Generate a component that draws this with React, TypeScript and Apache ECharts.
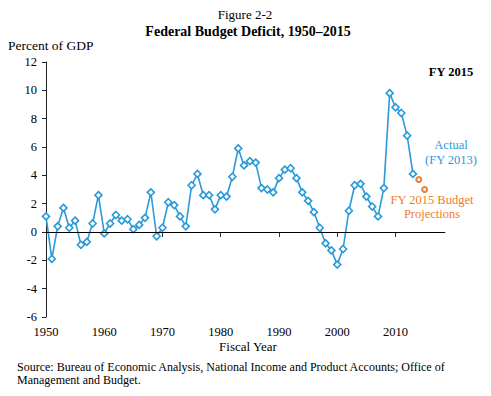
import React, { useEffect, useRef } from "react";
import * as echarts from "echarts";

const actualYears = [
  1950, 1951, 1952, 1953, 1954, 1955, 1956, 1957, 1958, 1959,
  1960, 1961, 1962, 1963, 1964, 1965, 1966, 1967, 1968, 1969,
  1970, 1971, 1972, 1973, 1974, 1975, 1976, 1977, 1978, 1979,
  1980, 1981, 1982, 1983, 1984, 1985, 1986, 1987, 1988, 1989,
  1990, 1991, 1992, 1993, 1994, 1995, 1996, 1997, 1998, 1999,
  2000, 2001, 2002, 2003, 2004, 2005, 2006, 2007, 2008, 2009,
  2010, 2011, 2012, 2013,
];
const actualDeficit = [
  1.1, -1.9, 0.4, 1.7, 0.3, 0.8, -0.9, -0.7, 0.6, 2.6,
  -0.1, 0.6, 1.2, 0.8, 0.9, 0.2, 0.5, 1.0, 2.8, -0.3,
  0.3, 2.1, 1.9, 1.1, 0.4, 3.3, 4.1, 2.6, 2.6, 1.6,
  2.6, 2.5, 3.9, 5.9, 4.7, 5.0, 4.9, 3.1, 3.0, 2.8,
  3.8, 4.4, 4.5, 3.8, 2.8, 2.2, 1.4, 0.3, -0.8, -1.3,
  -2.3, -1.2, 1.5, 3.3, 3.4, 2.5, 1.8, 1.1, 3.1, 9.8,
  8.8, 8.4, 6.8, 4.1,
];
const projectionYears = [2014, 2015];
const projectionDeficit = [3.7, 3.0];
const xTickYears = [1950, 1960, 1970, 1980, 1990, 2000, 2010];

const FONT = "'Liberation Serif', 'DejaVu Serif', serif";
const BLUE = "#2a9ad8";
const ORANGE = "#ee7d2c";

export default function App() {
  const ref = useRef<HTMLDivElement>(null);
  useEffect(() => {
    if (!ref.current) return;
    const chart = echarts.init(ref.current, null, { renderer: "svg" });
    const txt = (
      text: string,
      x: number,
      y: number,
      font: string,
      fill: string,
      align: string,
      lineHeight?: number
    ) => ({
      type: "text",
      x,
      y,
      style: { text, font, fill, align, verticalAlign: "middle", lineHeight },
    });
    chart.setOption({
      animation: false,
      backgroundColor: "#fff",
      textStyle: { fontFamily: FONT },
      grid: { left: 46, right: 46, top: 62, bottom: 79 },
      xAxis: {
        type: "value",
        min: 1950,
        max: 2018.5,
        splitLine: { show: false },
        axisLine: { lineStyle: { color: "#666", width: 1 } },
        axisTick: {
          length: 5,
          customValues: xTickYears,
          lineStyle: { color: "#333" },
        },
        axisLabel: {
          customValues: xTickYears,
          margin: 8,
          color: "#000",
          fontSize: 12.5,
          fontFamily: FONT,
          formatter: (v: number) => String(v),
        },
      },
      yAxis: {
        type: "value",
        min: -6,
        max: 12,
        interval: 2,
        splitLine: { show: false },
        axisLine: { show: true, lineStyle: { color: "#222", width: 1 } },
        axisTick: { show: true, length: 4, lineStyle: { color: "#222" } },
        axisLabel: { color: "#000", fontSize: 12.5, fontFamily: FONT, margin: 9 },
      },
      series: [
        {
          type: "line",
          data: actualYears.map((y, i) => [y, actualDeficit[i]]),
          symbol: "diamond",
          symbolSize: 7,
          itemStyle: { color: "#fff", borderColor: BLUE, borderWidth: 1.6 },
          lineStyle: { color: BLUE, width: 1.6 },
          markLine: {
            silent: true,
            symbol: "none",
            label: { show: false },
            lineStyle: { color: "#000", width: 1, type: "solid" },
            data: [{ yAxis: 0 }],
          },
          z: 3,
        },
        {
          type: "line",
          data: projectionYears.map((y, i) => [y, projectionDeficit[i]]),
          symbol: "emptyCircle",
          symbolSize: 5,
          itemStyle: { color: ORANGE, borderColor: ORANGE, borderWidth: 1.8 },
          lineStyle: { width: 0 },
          z: 2,
        },
      ],
      graphic: [
        txt("Figure 2-2", 245, 14, `13px ${FONT}`, "#000", "center"),
        txt("Federal Budget Deficit, 1950\u20132015", 248, 31, `bold 14px ${FONT}`, "#000", "center"),
        txt("Percent of GDP", 8, 45, `13.5px ${FONT}`, "#000", "left"),
        txt("FY 2015", 451, 72, `bold 12.5px ${FONT}`, "#000", "center"),
        txt("Actual\n(FY 2013)", 451, 152, `12.5px ${FONT}`, BLUE, "center", 15),
        txt("FY 2015 Budget\nProjections", 432, 207, `12.5px ${FONT}`, ORANGE, "center", 14),
        txt("Fiscal Year", 248, 346, `13px ${FONT}`, "#000", "center"),
        txt(
          "Source: Bureau of Economic Analysis, National Income and Product Accounts; Office of\nManagement and Budget.",
          17,
          373,
          `12px ${FONT}`,
          "#000",
          "left",
          13
        ),
      ],
    });
    return () => chart.dispose();
  }, []);
  return <div ref={ref} style={{ width: 491, height: 396, margin: -8 }} />;
}
